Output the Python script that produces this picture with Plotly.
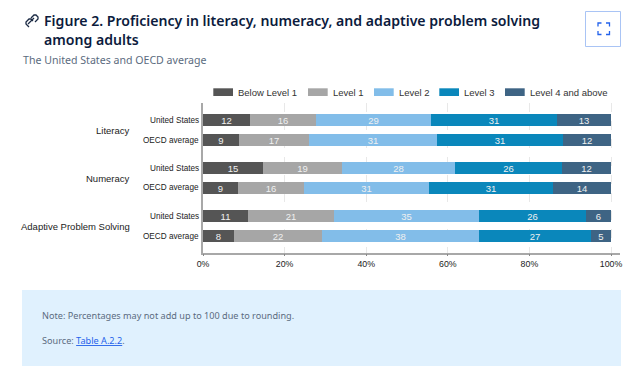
import plotly.graph_objects as go

levels = ["Below Level 1", "Level 1", "Level 2", "Level 3", "Level 4 and above"]
colors = ["#555555", "#a6a6a6", "#82bde9", "#0a87bb", "#3e6484"]
domains = ["Literacy", "Numeracy", "Adaptive Problem Solving"]
groups = ["United States", "OECD average"]

below1 = [11.5, 8.9, 14.8, 8.5, 11.0, 7.7]
level1 = [16.1, 17.2, 19.3, 16.3, 21.2, 21.5]
level2 = [28.4, 31.3, 27.7, 30.6, 35.4, 38.5]
level3 = [30.7, 30.9, 26.2, 30.5, 26.2, 27.3]
level4 = [13.3, 11.7, 12.0, 14.1, 6.2, 5.0]
series = [below1, level1, level2, level3, level4]

below1_labels = ["12", "9", "15", "9", "11", "8"]
level1_labels = ["16", "17", "19", "16", "21", "22"]
level2_labels = ["29", "31", "28", "31", "35", "38"]
level3_labels = ["31", "31", "26", "31", "26", "27"]
level4_labels = ["13", "12", "12", "14", "6", "5"]
labels = [below1_labels, level1_labels, level2_labels, level3_labels, level4_labels]

W, H = 640, 376
row_px = [120.3, 140.2, 168.2, 187.9, 216.3, 236.1]
PLOT_L, PLOT_R, PLOT_T, PLOT_B = 203.0, 620.0, 103.0, 252.5
XMAX = (PLOT_R - PLOT_L) / 4.08
INK = "#222222"


def px(x):
    return x / W


def py(y):
    return 1 - y / H


fig = go.Figure()
for name, col, vals, txt in zip(levels, colors, series, labels):
    fig.add_trace(go.Bar(
        name=name, x=vals, y=row_px, orientation="h", width=12.2,
        marker=dict(color=col, line=dict(width=0)),
        text=txt, textposition="inside", insidetextanchor="middle", textangle=0,
        constraintext="none", cliponaxis=False,
        textfont=dict(family="Liberation Sans", size=9.5, color="#f0f0f0"),
    ))

ann = []


def text(x, y, s, size, color, family="Liberation Sans", anchor="left", weight=None):
    f = dict(family=family, size=size, color=color)
    if weight:
        f["weight"] = weight
    ann.append(dict(x=px(x), y=py(y), xref="paper", yref="paper", text=s, showarrow=False,
                    xanchor=anchor, yanchor="middle", font=f, align=anchor))


NAVY = "#0c1b3d"
GREY = "#5b6b80"
text(42, 21, "Figure 2. Proficiency in literacy, numeracy, and adaptive problem solving", 14.1, NAVY,
     "Noto Sans", weight=600)
text(42, 39.5, "among adults", 14.1, NAVY, "Noto Sans", weight=600)
text(20.5, 60, "The United States and OECD average", 10.6, GREY, "Noto Sans")

text(132, 130.7, domains[0], 9.5, INK, anchor="right")
text(132, 178.7, domains[1], 9.5, INK, anchor="right")
text(132, 226.7, domains[2], 9.5, INK, anchor="right")
for i, y in enumerate(row_px):
    text(200.5, y, groups[i % 2], 8.2, INK, anchor="right")

legend_x = [213.3, 308, 374, 439.3, 505]
shapes = []
for lx, name, col in zip(legend_x, levels, colors):
    shapes.append(dict(type="rect", xref="paper", yref="paper", x0=px(lx), x1=px(lx + 19.7),
                       y0=py(96), y1=py(88.3), fillcolor=col, line_width=0))
    text(lx + 23, 92.5, name, 9.5, "#333333")

# page furniture
shapes.append(dict(type="rect", xref="paper", yref="paper", x0=px(22), x1=px(621),
                   y0=py(366), y1=py(290), fillcolor="#e0f1fe", line_width=0, layer="below"))
text(39.5, 315.5, "Note: Percentages may not add up to 100 due to rounding.", 9.15, GREY, "Noto Sans")
text(39.5, 340.5, 'Source: <span style="color:#2563eb"><u>Table A.2.2</u></span>.', 9.15, GREY, "Noto Sans")

BLUE = "#2563eb"


def pth(points):
    d = "M" + " L".join(f"{px(a):.5f},{py(b):.5f}" for a, b in points)
    return dict(type="path", path=d, xref="paper", yref="paper", line=dict(color=BLUE, width=1.3))


shapes.append(dict(type="rect", xref="paper", yref="paper", x0=px(585.5), x1=px(620.5),
                   y0=py(46.5), y1=py(11.5), fillcolor="#ffffff",
                   line=dict(color="#a9c4f5", width=1)))
for c in [[(598, 26.5), (598, 23), (601.5, 23)], [(606, 23), (609.5, 23), (609.5, 26.5)],
          [(598, 31), (598, 34.5), (601.5, 34.5)], [(606, 34.5), (609.5, 34.5), (609.5, 31)]]:
    shapes.append(pth(c))

# link icon
for seg in [[(29, 27), (26, 24), (26, 22), (29, 19), (31, 19), (33, 21)],
            [(31, 18), (34, 15), (36, 15), (38, 17), (38, 19), (35, 22)],
            [(28, 24), (34, 18)]]:
    s = pth(seg)
    s["line"] = dict(color="#1b2a44", width=1.3)
    shapes.append(s)

fig.update_layout(
    barmode="stack", width=W, height=H, autosize=False, showlegend=False, bargap=0,
    margin=dict(l=0, r=0, t=0, b=0, pad=0, autoexpand=False), paper_bgcolor="#ffffff", plot_bgcolor="#ffffff",
    annotations=ann, shapes=shapes,
    xaxis=dict(domain=[px(PLOT_L), px(PLOT_R)], range=[0, XMAX], tickvals=[0, 20, 40, 60, 80, 100],
               ticktext=["0%", "20%", "40%", "60%", "80%", "100%"], ticks="outside", ticklen=2,
               tickcolor="#888888", tickwidth=1, showline=True, linecolor="#a8a8a8", linewidth=1.5,
               showgrid=True, gridcolor="#e8e8e8", griddash="dash", gridwidth=1, zeroline=False,
               tickfont=dict(family="Liberation Sans", size=8.8, color=INK), anchor="y", automargin=False),
    yaxis=dict(domain=[py(PLOT_B), py(PLOT_T)], range=[PLOT_B, PLOT_T], showticklabels=False, ticks="",
               showline=True, linecolor="#a8a8a8", linewidth=1.5, showgrid=False, zeroline=False, anchor="x",
               automargin=False),
)

fig.write_html("out.html", config={"displayModeBar": False},
               post_script="document.documentElement.style.margin='0';document.body.style.margin='0';"
                           "var d=document.getElementById('{plot_id}');d.style.position='fixed';"
                           "d.style.left='0';d.style.top='0';")
